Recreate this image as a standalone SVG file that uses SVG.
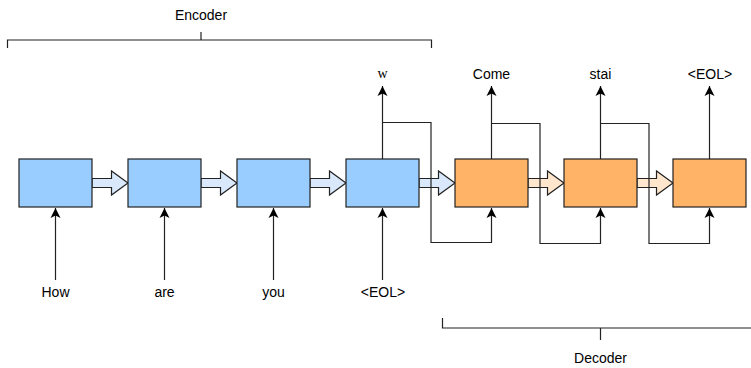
<svg xmlns="http://www.w3.org/2000/svg" width="751" height="368" viewBox="0 0 751 368">
<style>
.enc{fill:#99ccff;stroke:#222;stroke-width:1.2}
.dec{fill:#ffb366;stroke:#222;stroke-width:1.2}
.ea{fill:#dae8fc;stroke:#222;stroke-width:1.2}
.da{fill:#ffe6cc;stroke:#222;stroke-width:1.2}
.ln{fill:none;stroke:#222;stroke-width:1.2}
.ar{fill:none;stroke:#222;stroke-width:1.2;marker-end:url(#arr)}
.t{font-family:"Liberation Sans",Arial,sans-serif;font-size:14px;fill:#000;text-anchor:middle}
.s{font-family:"Liberation Serif","Times New Roman",serif;font-size:14px;fill:#000;text-anchor:middle}
</style>
<defs>
<marker id="arr" markerUnits="userSpaceOnUse" markerWidth="12" markerHeight="12" viewBox="0 0 12 12" refX="11" refY="6" orient="auto">
<path d="M1,1 L11,6 L1,11 L3.5,6 Z" fill="#000"/>
</marker>
</defs>
<rect width="751" height="368" fill="#fff"/>

<g id="encoder-bracket">
<path class="ln" d="M7.5,48 V40 H431.5 V48 M201,40 V32"/>
<text class="t" x="201" y="20">Encoder</text>
</g>
<g id="decoder-bracket">
<path class="ln" d="M442.5,318 V328 H752 M600.5,328 V340"/>
<text class="t" x="600.5" y="363">Decoder</text>
</g>

<g id="block-arrows">
<path class="ea" d="M92,178.5 H111.5 V171 L128,183 L111.5,195 V187.5 H92 Z"/>
<path class="ea" d="M201,178.5 H220.5 V171 L237,183 L220.5,195 V187.5 H201 Z"/>
<path class="ea" d="M310,178.5 H329.5 V171 L346,183 L329.5,195 V187.5 H310 Z"/>
<path class="ea" d="M419,178.5 H438.5 V171 L455,183 L438.5,195 V187.5 H419 Z"/>
<path class="da" d="M528,178.5 H547.5 V171 L564,183 L547.5,195 V187.5 H528 Z"/>
<path class="da" d="M637,178.5 H656.5 V171 L673,183 L656.5,195 V187.5 H637 Z"/>
</g>

<g id="connectors">
<path class="ar" d="M55.5,280 V208"/>
<path class="ar" d="M164.5,280 V208"/>
<path class="ar" d="M273.5,280 V208"/>
<path class="ar" d="M382.5,280 V208"/>
<path class="ar" d="M382.5,159 V86"/>
<path class="ar" d="M491.5,159 V86"/>
<path class="ar" d="M600.5,159 V86"/>
<path class="ar" d="M709.5,159 V86"/>
<path class="ar" d="M382.5,122.5 H431 V242.5 H491.5 V208"/>
<path class="ar" d="M491.5,123.5 H540 V243.5 H600.5 V208"/>
<path class="ar" d="M600.5,123.5 H649 V243.5 H709.5 V208"/>
</g>

<g id="enc1"><rect class="enc" x="19" y="159" width="73" height="48"/></g>
<g id="enc2"><rect class="enc" x="128" y="159" width="73" height="48"/></g>
<g id="enc3"><rect class="enc" x="237" y="159" width="73" height="48"/></g>
<g id="enc4"><rect class="enc" x="346" y="159" width="73" height="48"/></g>
<g id="dec1"><rect class="dec" x="455" y="159" width="73" height="48"/></g>
<g id="dec2"><rect class="dec" x="564" y="159" width="73" height="48"/></g>
<g id="dec3"><rect class="dec" x="673" y="159" width="73" height="48"/></g>

<g id="labels">
<text class="t" x="55.5" y="297">How</text>
<text class="t" x="164.5" y="297">are</text>
<text class="t" x="273.5" y="297">you</text>
<text class="t" x="383" y="297">&lt;EOL&gt;</text>
<text class="s" x="382.5" y="78">w</text>
<text class="t" x="491.5" y="79">Come</text>
<text class="t" x="600.5" y="79">stai</text>
<text class="t" x="710" y="79">&lt;EOL&gt;</text>
</g>
</svg>
